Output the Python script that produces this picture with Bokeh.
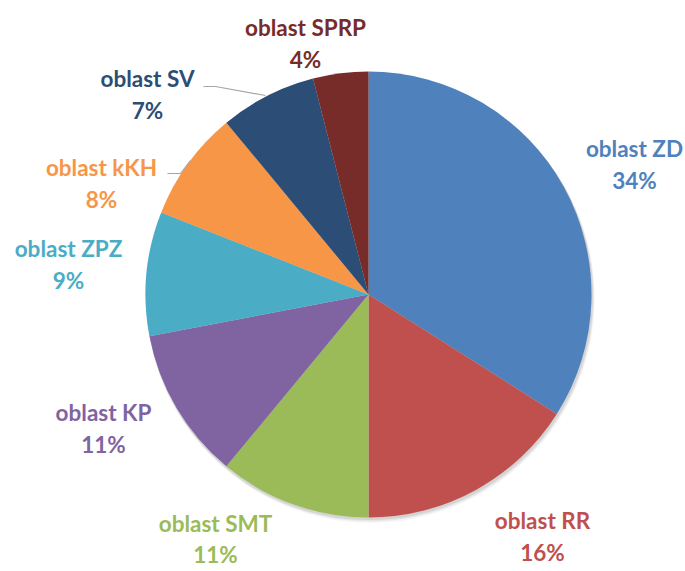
import math
from bokeh.plotting import figure
from bokeh.models import Range1d, ColumnDataSource
from bokeh.core.properties import value
from bokeh.embed import file_html
from bokeh.resources import INLINE

# data (clockwise from 12 o'clock)
names = ["oblast ZD", "oblast RR", "oblast SMT", "oblast KP", "oblast ZPZ",
         "oblast kKH", "oblast SV", "oblast SPRP"]
values = [34, 16, 11, 11, 9, 8, 7, 4]
colors = ["#4F81BD", "#C0504D", "#9BBB59", "#8064A2", "#4BACC6",
          "#F79646", "#2C4D75", "#772C2A"]

# label layout (screen px)
label_x = [634, 542, 215, 103, 68, 101, 147, 305]
label_y = [148, 520, 523, 412, 248, 167, 78, 27]
line_gap = [32, 32, 31, 32, 32, 32, 32, 32]

W, H = 685, 571
def sy(y):
    return 571 - y

p = figure(width=W, height=H, output_backend="svg", toolbar_location=None,
           x_range=Range1d(0, W), y_range=Range1d(0, H),
           min_border=0)
p.axis.visible = False
p.grid.visible = False
p.outline_line_color = None
p.background_fill_color = "white"

cx, cy, r = 368, sy(294), 223
total = sum(values)
starts, ends = [], []
cum = 0
for v in values:
    a0 = math.pi / 2 - 2 * math.pi * cum / total
    cum += v
    a1 = math.pi / 2 - 2 * math.pi * cum / total
    starts.append(a1)
    ends.append(a0)

# soft shadow
for off, al in [(4, 0.04), (3, 0.06), (2, 0.08)]:
    p.circle(x=[cx + off * 0.5], y=[cy - off], radius=r + off * 0.3, fill_color="black",
             fill_alpha=al, line_color=None)

src = ColumnDataSource(dict(start=starts, end=ends, color=colors))
p.wedge(x=cx, y=cy, radius=r, start_angle="start", end_angle="end",
        fill_color="color", line_color=None, source=src)

# leader lines
p.line(x=[203, 215, 265], y=[sy(86), sy(86), sy(95)], line_color="#A6A6A6", line_width=1.2)
p.line(x=[167, 180, 190], y=[sy(173), sy(173), sy(160)], line_color="#A6A6A6", line_width=1.2)

pcts = [f"{v}%" for v in values]
lsrc = ColumnDataSource(dict(x=label_x, y1=[sy(y) for y in label_y],
                             y2=[sy(y + g) for y, g in zip(label_y, line_gap)],
                             name=names, pct=pcts, color=colors))
for col, ycol in [("name", "y1"), ("pct", "y2")]:
    p.text(x="x", y=ycol, text=col, source=lsrc, text_color="color",
           text_font=value("Lato"), text_font_style="bold",
           text_font_size="22.5px", text_align="center", text_baseline="middle")

open("out.html", "w").write(file_html(p, INLINE))
